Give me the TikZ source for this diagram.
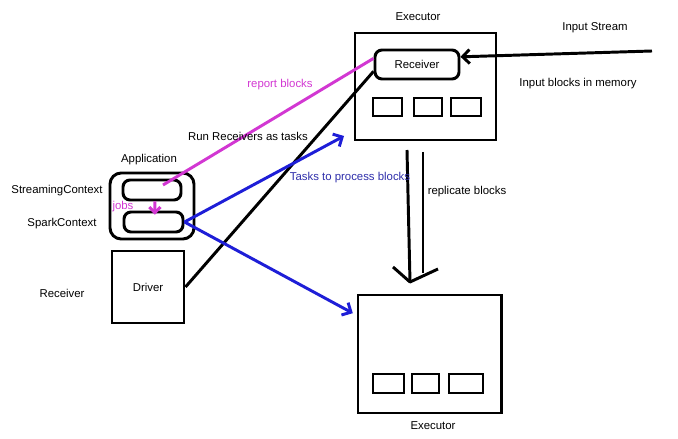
\documentclass[tikz,border=0pt]{standalone}
\usepackage{fontspec}
\setmainfont{Liberation Sans}
\usetikzlibrary{arrows.meta,calc}
\definecolor{jobpink}{RGB}{210,55,210}
\definecolor{taskblue}{RGB}{30,30,215}
\definecolor{tasktext}{RGB}{45,45,170}
\begin{document}
\begin{tikzpicture}[x=0.025cm, y=-0.025cm,
  font=\fontsize{8.1}{9.7}\selectfont, >={Straight Barb[length=5pt,width=10pt]},
  box/.style={draw, line width=2.1pt, inner sep=0pt},
  rbox/.style={box, rounded corners=5pt},
  blk/.style={draw, line width=1.9pt, inner sep=0pt},
  conn/.style={line width=2.1pt},
  lbl/.style={inner sep=1pt}]
  \useasboundingbox (0,0) rectangle (678,439);
  % top executor with its receiver
  \node[lbl] (exectop) at (418,17) {Executor};
  \node[box, minimum width=3.525cm, minimum height=2.675cm] (exec1) at (425.5,86.5) {};
  \node[rbox, minimum width=2.1cm, minimum height=0.725cm] (recv) at (417,64.5) {Receiver};
  \node[blk, minimum width=0.725cm, minimum height=0.45cm] (tb1) at (387.5,107) {};
  \node[blk, minimum width=0.7cm, minimum height=0.45cm] (tb2) at (428,107) {};
  \node[blk, minimum width=0.75cm, minimum height=0.45cm] (tb3) at (466,107) {};
  \node[lbl] (instream) at (595,28) {Input Stream};
  \node[lbl] (inmem) at (578,84) {Input blocks in memory};
  \coordinate (streamsrc) at (652,51);
  \draw[conn, ->] (streamsrc) -- (recv.10);
  % bottom executor
  \node[box, minimum width=3.575cm, minimum height=2.95cm] (exec2) at (429.5,354) {};
  \node[blk, minimum width=0.775cm, minimum height=0.475cm] (bb1) at (388.5,383.5) {};
  \node[blk, minimum width=0.675cm, minimum height=0.475cm] (bb2) at (425.5,383.5) {};
  \node[blk, minimum width=0.85cm, minimum height=0.475cm] (bb3) at (466,383.5) {};
  \node[lbl] (execbot) at (433,426) {Executor};
  % replication
  \draw[conn] (407,150) -- (410,282);
  \draw[conn] (423,152) -- (423,273);
  \draw[conn, line join=round] (393,267) -- (410,282) -- (438,269);
  \node[lbl] (repl) at (467,192) {replicate blocks};
  % application and driver
  \node[lbl] (applbl) at (149,160) {Application};
  \node[box, rounded corners=8pt, minimum width=2.1cm, minimum height=1.65cm] (app) at (152,206) {};
  \node[rbox, minimum width=1.45cm, minimum height=0.5cm] (ssc) at (152,190) {};
  \node[rbox, minimum width=1.475cm, minimum height=0.5cm] (spc) at (153.5,222) {};
  \node[box, minimum width=1.8cm, minimum height=1.8cm] (driver) at (148,287) {Driver};
  \node[lbl] (ssclbl) at (57,191) {StreamingContext};
  \node[lbl] (spclbl) at (62,224) {SparkContext};
  \node[lbl] (rcvlbl) at (62,293) {Receiver};
  \node[lbl, text=jobpink] (jobs) at (123,207) {jobs};
  \draw[conn, jobpink, ->, >={Straight Barb[length=4pt,width=8pt]}] ([xshift=2pt]ssc.south) -- ([xshift=1pt, yshift=-3pt]spc.north);
  % connections
  \draw[conn, jobpink] ($(ssc.center)+(11,-5)$) -- (recv.172);
  \node[lbl, text=jobpink] (report) at (280,85) {report blocks};
  \draw[conn] (driver.east) -- (recv.189);
  \node[lbl] (runrecv) at (248,136) {Run Receivers as tasks};
  \coordinate (tasktip) at (344,136);
  \draw[conn, taskblue, ->] (spc.east) -- (tasktip);
  \draw[conn, taskblue, ->, shorten >=3pt] (spc.east) -- (exec2.152);
  \node[lbl, text=tasktext] (tasks) at (350,178) {Tasks to process blocks};
\end{tikzpicture}
\end{document}
